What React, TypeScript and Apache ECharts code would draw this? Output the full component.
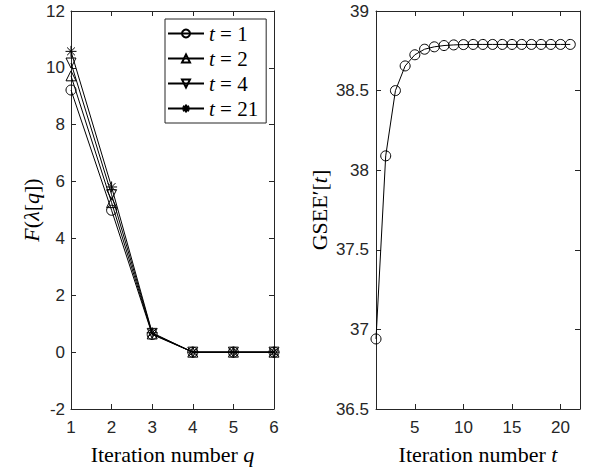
import React, { useEffect, useRef } from "react";
import * as echarts from "echarts";

const qValues = [1, 2, 3, 4, 5, 6];
const fT1 = [9.22, 4.99, 0.62, 0.0, 0.0, 0.0];
const fT2 = [9.72, 5.26, 0.64, 0.0, 0.0, 0.0];
const fT4 = [10.17, 5.54, 0.66, 0.0, 0.0, 0.0];
const fT21 = [10.58, 5.81, 0.68, 0.0, 0.0, 0.0];
const legendNames = ["t = 1", "t = 2", "t = 4", "t = 21"];

const tValues = [1, 2, 3, 4, 5, 6, 7, 8, 9, 10, 11, 12, 13, 14, 15, 16, 17, 18, 19, 20, 21];
const gsee = [
  36.94, 38.09, 38.5, 38.655, 38.725, 38.76, 38.775, 38.783, 38.787, 38.789, 38.79,
  38.79, 38.79, 38.79, 38.79, 38.79, 38.79, 38.79, 38.79, 38.79, 38.79,
];
const rightXTicks = [5, 10, 15, 20];

const AX = "#262626";
const SANS = "'Liberation Sans', Arial, Helvetica, sans-serif";
const SERIF = "'Liberation Serif', 'Times New Roman', serif";
const TICK_FS = 17;
const TITLE_FS = 22;

const richItalic = { fontFamily: SERIF, fontSize: TITLE_FS, fontStyle: "italic", color: "#000" };
const richNormal = { fontFamily: SERIF, fontSize: TITLE_FS, color: "#000" };

const ASTERISK =
  "path://M5,0L5,10M0,5L10,5M1.46,1.46L8.54,8.54M1.46,8.54L8.54,1.46";

function baseAxis(extra: any) {
  return {
    type: "value",
    axisLine: { show: true, onZero: false, lineStyle: { color: AX, width: 1 } },
    axisTick: { show: true, inside: true, length: 5, lineStyle: { color: AX, width: 1 } },
    axisLabel: { show: true, color: AX, fontFamily: SANS, fontSize: TICK_FS },
    splitLine: { show: false },
    ...extra,
  };
}

export default function App() {
  const ref = useRef<HTMLDivElement>(null);
  useEffect(() => {
    if (!ref.current) return;
    const chart = echarts.init(ref.current, null, { renderer: "svg" });
    const leftData = [fT1, fT2, fT4, fT21];
    const symbols = ["circle", "triangle", "triangle", ASTERISK];
    const rotates = [0, 0, 180, 0];
    const leftSeries = leftData.map((arr, i) => ({
      name: legendNames[i],
      type: "line",
      xAxisIndex: 0,
      yAxisIndex: 0,
      data: qValues.map((q, j) => [q, arr[j]]),
      symbol: symbols[i],
      symbolRotate: rotates[i],
      symbolSize: i === 3 ? 11 : 10,
      showAllSymbol: true,
      lineStyle: { color: "#000", width: 1 },
      itemStyle: {
        color: i === 3 ? "#000" : "rgba(0,0,0,0)",
        borderColor: "#000",
        borderWidth: 1,
      },
      emphasis: { disabled: true },
      z: 3,
    }));
    const option: any = {
      animation: false,
      backgroundColor: "#fff",
      grid: [
        { left: 71, top: 11, width: 203, height: 400 },
        { left: 376, top: 11, width: 204, height: 400 },
      ],
      legend: {
        data: legendNames,
        orient: "vertical",
        left: 165,
        top: 19,
        backgroundColor: "#fff",
        borderColor: AX,
        borderWidth: 1,
        borderRadius: 0,
        padding: [4, 8, 4, 2],
        itemGap: 4,
        itemWidth: 36,
        itemHeight: 10,
        selectedMode: false,
        formatter: (name: string) => "{i|t} = " + name.split("= ")[1],
        textStyle: {
          fontFamily: SERIF,
          fontSize: 21,
          color: "#000",
          rich: { i: { ...richItalic, fontSize: 21 } },
        },
      },
      xAxis: [
        baseAxis({
          gridIndex: 0,
          position: "bottom",
          min: 1,
          max: 6,
          interval: 1,
          axisLabel: { color: AX, fontFamily: SANS, fontSize: TICK_FS, margin: 10 },
          name: "Iteration number {i|q}",
          nameLocation: "middle",
          nameGap: 34,
          nameTextStyle: { ...richNormal, rich: { i: richItalic } },
        }),
        baseAxis({
          gridIndex: 0,
          position: "top",
          min: 1,
          max: 6,
          interval: 1,
          axisLabel: { show: false },
        }),
        baseAxis({
          gridIndex: 1,
          position: "bottom",
          min: 1,
          max: 22,
          axisLabel: {
            color: AX,
            fontFamily: SANS,
            fontSize: TICK_FS,
            margin: 10,
            customValues: rightXTicks,
          },
          axisTick: {
            show: true,
            inside: true,
            length: 5,
            lineStyle: { color: AX, width: 1 },
            customValues: rightXTicks,
          },
          name: "Iteration number {i|t}",
          nameLocation: "middle",
          nameGap: 34,
          nameTextStyle: { ...richNormal, rich: { i: richItalic } },
        }),
        baseAxis({
          gridIndex: 1,
          position: "top",
          min: 1,
          max: 22,
          axisLabel: { show: false, customValues: rightXTicks },
          axisTick: {
            show: true,
            inside: true,
            length: 5,
            lineStyle: { color: AX, width: 1 },
            customValues: rightXTicks,
          },
        }),
      ],
      yAxis: [
        baseAxis({
          gridIndex: 0,
          position: "left",
          min: -2,
          max: 12,
          interval: 2,
          axisLabel: { color: AX, fontFamily: SANS, fontSize: TICK_FS, margin: 6 },
          name: "{i|F}({i|λ}[{i|q}])",
          nameLocation: "middle",
          nameGap: 27,
          nameTextStyle: { ...richNormal, rich: { i: richItalic } },
        }),
        baseAxis({
          gridIndex: 0,
          position: "right",
          min: -2,
          max: 12,
          interval: 2,
          axisLabel: { show: false },
        }),
        baseAxis({
          gridIndex: 1,
          position: "left",
          min: 36.5,
          max: 39,
          interval: 0.5,
          axisLabel: { color: AX, fontFamily: SANS, fontSize: TICK_FS, margin: 7 },
          name: "GSEE′[{i|t}]",
          nameLocation: "middle",
          nameGap: 46,
          nameTextStyle: { ...richNormal, rich: { i: richItalic } },
        }),
        baseAxis({
          gridIndex: 1,
          position: "right",
          min: 36.5,
          max: 39,
          interval: 0.5,
          axisLabel: { show: false },
        }),
      ],
      series: [
        ...leftSeries,
        {
          name: "GSEE",
          type: "line",
          xAxisIndex: 2,
          yAxisIndex: 2,
          data: tValues.map((t, j) => [t, gsee[j]]),
          symbol: "circle",
          symbolSize: 10,
          showAllSymbol: true,
          lineStyle: { color: "#000", width: 1 },
          itemStyle: { color: "rgba(0,0,0,0)", borderColor: "#000", borderWidth: 1 },
          emphasis: { disabled: true },
          z: 3,
        },
      ],
    };
    chart.setOption(option);
    return () => chart.dispose();
  }, []);
  return <div ref={ref} style={{ width: 593, height: 470, position: "absolute", left: 0, top: 0 }} />;
}
